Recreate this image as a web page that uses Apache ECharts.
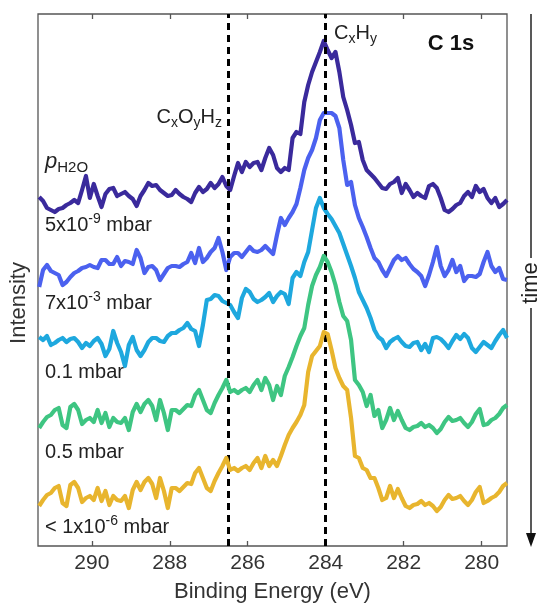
<!DOCTYPE html>
<html>
<head>
<meta charset="utf-8">
<title>C 1s</title>
<script src="https://cdn.jsdelivr.net/npm/echarts@6.0.0/dist/echarts.min.js"></script>
<style>
  html, body { margin: 0; padding: 0; background: #fff; }
  #chart { width: 543px; height: 603px; }
</style>
</head>
<body>
<div id="chart"></div>
<script>
// binding energy grid (eV), 0.1 eV steps from 291.35 down to 279.35
var energies = []
for (var i = 0; i <= 120; i++) {
  energies.push(+(291.35 - 0.1 * i).toFixed(2))
}

var tickValues = [290, 288, 286, 284, 282, 280]
var refLines = [286.5, 284.0] // CxOyHz, CxHy

// stacked intensities (arbitrary units, offset per spectrum)
var s5e9 = [349, 345, 338, 336, 334, 337, 338, 341, 343, 346, 343, 356, 370, 348, 362, 350, 339, 352, 357, 358,
  350, 352, 354, 350, 347, 340, 350, 356, 363, 360, 361, 356, 353, 350, 351, 356, 352, 349, 347, 344,
  353, 359, 354, 357, 363, 358, 362, 369, 360, 356, 370, 383, 374, 384, 379, 383, 384, 376, 388, 398,
  391, 378, 374, 378, 376, 408, 414, 412, 444, 461, 474, 484, 494, 505, 496, 488, 494, 474, 449, 436,
  421, 403, 404, 386, 376, 372, 368, 363, 358, 357, 362, 364, 368, 353, 362, 356, 349, 353, 350, 348,
  360, 362, 358, 348, 336, 334, 337, 341, 343, 350, 354, 349, 360, 354, 357, 348, 343, 348, 339, 342, 346]
var s7e3 = [259, 276, 281, 275, 273, 271, 261, 264, 269, 273, 275, 278, 279, 281, 279, 278, 286, 286, 282, 282,
  289, 280, 285, 284, 282, 296, 288, 273, 279, 280, 276, 266, 272, 278, 280, 280, 279, 282, 284, 293,
  283, 298, 284, 288, 294, 298, 308, 294, 276, 289, 293, 293, 289, 294, 299, 295, 294, 296, 300, 296,
  292, 311, 328, 321, 328, 334, 342, 358, 376, 388, 396, 408, 426, 433, 433, 433, 430, 418, 386, 361,
  364, 341, 328, 319, 309, 298, 288, 284, 276, 270, 278, 286, 290, 286, 288, 282, 277, 274, 270, 260,
  271, 284, 299, 280, 270, 276, 286, 274, 280, 265, 270, 270, 269, 272, 284, 294, 280, 274, 278, 267, 266]
var s01 = [209, 206, 210, 201, 203, 206, 208, 204, 207, 208, 204, 198, 203, 200, 205, 208, 202, 190, 197, 215,
  203, 194, 180, 201, 209, 196, 190, 196, 204, 208, 208, 205, 204, 210, 213, 213, 216, 218, 223, 217,
  215, 200, 221, 246, 247, 251, 250, 245, 243, 241, 234, 228, 248, 257, 254, 247, 244, 246, 249, 253,
  244, 250, 254, 252, 242, 268, 274, 270, 284, 294, 316, 338, 348, 338, 332, 327, 320, 313, 302, 291,
  280, 268, 254, 246, 238, 228, 216, 209, 206, 198, 204, 207, 209, 204, 200, 199, 203, 204, 196, 202,
  194, 208, 209, 207, 203, 198, 205, 211, 207, 212, 208, 198, 194, 199, 204, 201, 198, 205, 211, 216, 208]
var s05 = [118, 124, 129, 131, 136, 138, 121, 118, 139, 142, 136, 122, 126, 128, 124, 136, 123, 133, 119, 128,
  124, 123, 128, 116, 134, 142, 134, 142, 146, 140, 126, 146, 133, 116, 136, 136, 133, 137, 141, 140,
  151, 156, 146, 136, 133, 143, 151, 158, 166, 154, 156, 153, 156, 158, 154, 161, 166, 156, 168, 161,
  146, 160, 151, 170, 179, 189, 200, 210, 218, 241, 260, 271, 279, 290, 284, 274, 261, 244, 230, 225,
  206, 166, 161, 154, 140, 151, 130, 136, 118, 126, 138, 126, 135, 126, 118, 116, 119, 120, 123, 119,
  121, 118, 113, 117, 124, 129, 125, 126, 128, 123, 119, 124, 132, 137, 121, 122, 126, 128, 132, 138, 141]
var s1e6 = [40, 46, 51, 53, 58, 60, 43, 40, 61, 64, 58, 44, 48, 50, 46, 58, 45, 55, 41, 50,
  46, 45, 50, 38, 56, 64, 56, 64, 68, 62, 48, 68, 55, 38, 58, 58, 55, 59, 63, 62,
  73, 78, 68, 58, 55, 65, 73, 80, 88, 76, 78, 75, 78, 80, 76, 83, 88, 78, 90, 80,
  86, 80, 90, 101, 111, 118, 124, 131, 141, 174, 190, 195, 200, 214, 212, 196, 178, 168, 160, 156,
  128, 90, 88, 78, 76, 68, 68, 58, 46, 48, 60, 48, 57, 48, 40, 38, 41, 42, 45, 41,
  43, 40, 35, 39, 46, 51, 47, 48, 50, 45, 41, 46, 54, 59, 43, 45, 48, 50, 54, 60, 63]

var spectra = [s5e9, s7e3, s01, s05, s1e6]
var names = ['5x10-9 mbar', '7x10-3 mbar', '0.1 mbar', '0.5 mbar', '< 1x10-6 mbar']
var colors = ['#3a2a9c', '#4b61ef', '#1ea8de', '#3ec582', '#e8b52e']

var font = '"Liberation Sans", Arial, Helvetica, sans-serif'
var rich = {
  m: { fontSize: 20, lineHeight: 26, fontFamily: font, fill: '#222' },
  sup: { fontSize: 14, lineHeight: 13, verticalAlign: 'top', fontFamily: font, fill: '#222' },
  sub: { fontSize: 14, lineHeight: 13, verticalAlign: 'bottom', fontFamily: font, fill: '#222' },
  big: { fontSize: 20, lineHeight: 26, fontFamily: font, fill: '#222' },
  p: { fontSize: 22, lineHeight: 26, fontStyle: 'italic', fontFamily: font, fill: '#222' },
  h: { fontSize: 15, lineHeight: 14, verticalAlign: 'bottom', fontFamily: font, fill: '#222' }
}

function label(text, x, y, align) {
  return {
    type: 'text',
    x: x,
    y: y,
    z: 100,
    style: { text: text, rich: rich, align: align || 'left', verticalAlign: 'middle' }
  }
}

var chart = echarts.init(document.getElementById('chart'), null, { renderer: 'canvas' })

var series = spectra.map(function(arr, k) {
  return {
    name: names[k],
    type: 'line',
    symbol: 'none',
    smooth: false,
    z: 2 + k,
    lineStyle: { color: colors[k], width: 4.2, join: 'round' },
    data: energies.map(function(e, i) { return [e, arr[i]] })
  }
})

// vertical dashed reference lines
series.push({
  type: 'line',
  data: [],
  z: 20,
  markLine: {
    silent: true,
    symbol: 'none',
    animation: false,
    label: { show: false },
    lineStyle: { color: '#000', type: [7, 5], width: 3 },
    data: refLines.map(function(v) { return { xAxis: v } })
  }
})

chart.setOption({
  animation: false,
  grid: {
    left: 38,
    right: 36,
    top: 14,
    bottom: 57,
    outerBoundsMode: 'none', // keep the plot box where it is
    show: true,
    borderColor: '#555',
    borderWidth: 1.3
  },
  xAxis: [
    {
      type: 'value',
      min: 279.35,
      max: 291.38,
      inverse: true,
      axisLine: { show: false },
      splitLine: { show: false },
      axisTick: { inside: true, length: 5, customValues: tickValues, lineStyle: { color: '#555', width: 1.3 } },
      axisLabel: { customValues: tickValues, margin: 7, fontSize: 21, color: '#333', fontFamily: font },
      name: 'Binding Energy (eV)',
      nameLocation: 'middle',
      nameGap: 35,
      nameTextStyle: { fontSize: 22, color: '#333', fontFamily: font }
    },
    {
      type: 'value',
      position: 'top',
      min: 279.35,
      max: 291.38,
      inverse: true,
      axisLine: { show: false },
      splitLine: { show: false },
      axisTick: { inside: true, length: 5, customValues: tickValues, lineStyle: { color: '#555', width: 1.3 } },
      axisLabel: { show: false }
    }
  ],
  yAxis: {
    type: 'value',
    min: 0,
    max: 532,
    show: false
  },
  series: series,
  graphic: [
    {
      type: 'text',
      x: 451,
      y: 44,
      style: { text: 'C 1s', font: 'bold 22px ' + font, fill: '#111', align: 'center', verticalAlign: 'middle' }
    },
    label('{big|C}{sub|x}{big|H}{sub|y}', 334, 33),
    label('{big|C}{sub|x}{big|O}{sub|y}{big|H}{sub|z}', 222, 117, 'right'),
    label('{p|p}{h|H2O}', 45, 162),
    label('{m|5x10}{sup|-9}{m| mbar}', 45, 225),
    label('{m|7x10}{sup|-3}{m| mbar}', 45, 303),
    label('{m|0.1 mbar}', 45, 372),
    label('{m|0.5 mbar}', 45, 452),
    label('{m|< 1x10}{sup|-6}{m| mbar}', 45, 527),
    {
      type: 'text',
      x: 19,
      y: 303,
      rotation: Math.PI / 2,
      style: { text: 'Intensity', font: '22px ' + font, fill: '#333', align: 'center', verticalAlign: 'middle' }
    },
    {
      type: 'text',
      x: 531,
      y: 283,
      rotation: Math.PI / 2,
      style: { text: 'time', font: '22px ' + font, fill: '#222', align: 'center', verticalAlign: 'middle' }
    },
    // time arrow
    { type: 'line', shape: { x1: 531, y1: 14, x2: 531, y2: 258 }, style: { stroke: '#222', lineWidth: 1.5 } },
    { type: 'line', shape: { x1: 531, y1: 308, x2: 531, y2: 536 }, style: { stroke: '#222', lineWidth: 1.5 } },
    { type: 'polygon', shape: { points: [[526, 533], [536, 533], [531, 547]] }, style: { fill: '#111' } }
  ]
})
</script>
</body>
</html>
